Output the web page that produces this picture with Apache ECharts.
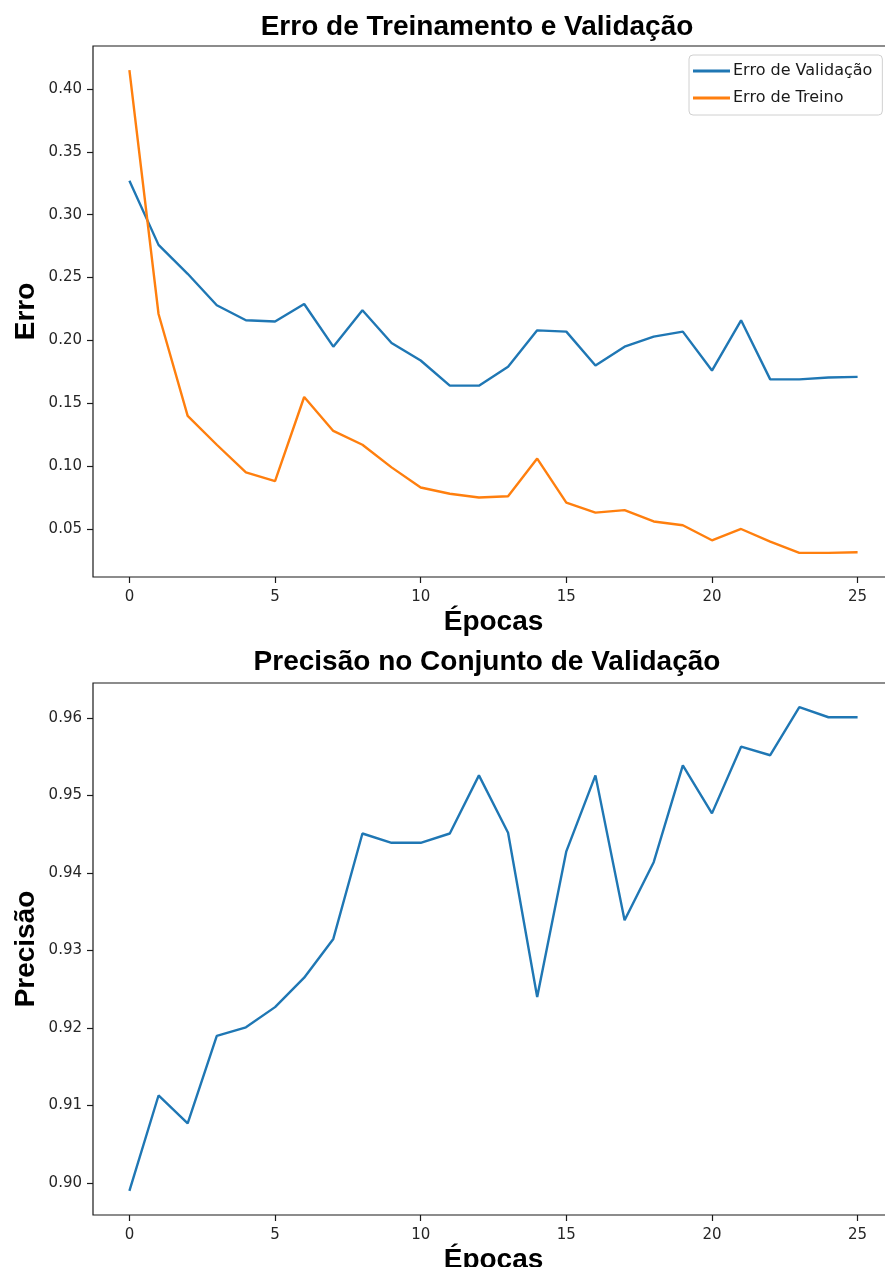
<!DOCTYPE html>
<html>
<head>
<meta charset="utf-8">
<script src="https://cdn.jsdelivr.net/npm/echarts@6/dist/echarts.min.js"></script>
<style>
  html, body { margin: 0; padding: 0; background: #fff; }
  #chart { width: 885px; height: 1267px; }
</style>
</head>
<body>
<div id="chart"></div>
<script>
// Epoch index for every recorded value
const epochs = [0, 1, 2, 3, 4, 5, 6, 7, 8, 9, 10, 11, 12, 13, 14, 15, 16, 17, 18, 19, 20, 21, 22, 23, 24, 25];

// Loss per epoch
const validationError = [0.327, 0.276, 0.253, 0.228, 0.216, 0.215, 0.229, 0.195, 0.224, 0.198, 0.184, 0.164, 0.164, 0.179, 0.208, 0.207, 0.180, 0.195, 0.203, 0.207, 0.176, 0.216, 0.169, 0.169, 0.1705, 0.171];
const trainError = [0.415, 0.221, 0.140, 0.117, 0.095, 0.088, 0.155, 0.128, 0.117, 0.099, 0.083, 0.078, 0.075, 0.076, 0.106, 0.071, 0.063, 0.065, 0.056, 0.053, 0.041, 0.050, 0.040, 0.031, 0.031, 0.0315];

// Accuracy on the validation set per epoch
const validationAccuracy = [0.899, 0.9113, 0.9077, 0.919, 0.9201, 0.9227, 0.9265, 0.9315, 0.9451, 0.9439, 0.9439, 0.9451, 0.9526, 0.9452, 0.924, 0.9428, 0.9526, 0.9339, 0.9414, 0.9539, 0.9477, 0.9563, 0.9552, 0.9614, 0.9601, 0.9601];

// Tick labels
const epochTicks = [0, 5, 10, 15, 20, 25];
const errorTicks = [0.05, 0.10, 0.15, 0.20, 0.25, 0.30, 0.35, 0.40];
const accuracyTicks = [0.90, 0.91, 0.92, 0.93, 0.94, 0.95, 0.96];

const BLUE = '#1f77b4';
const ORANGE = '#ff7f0e';
const INK = '#1a1a1a';
const TICK_FONT = 'DejaVu Sans';
const LABEL_FONT = 'Liberation Sans';

// Axis range padded by 5% of the data span on both sides
function padded(values) {
  const lo = Math.min(...values), hi = Math.max(...values);
  const pad = (hi - lo) * 0.05;
  return { min: lo - pad, max: hi + pad };
}
const xRange = padded(epochs);
const errRange = padded(validationError.concat(trainError));
const accRange = padded(validationAccuracy);

const pairs = ys => epochs.map((e, i) => [e, ys[i]]);

function xAxis(gridIndex) {
  return {
    type: 'value', gridIndex,
    min: xRange.min, max: xRange.max,
    name: 'Épocas', nameLocation: 'middle', nameGap: 31, nameMoveOverlap: false,
    nameTextStyle: { fontFamily: LABEL_FONT, fontWeight: 'bold', fontSize: 28, color: '#000' },
    axisLine: { show: false, onZero: false },
    axisTick: { show: true, length: 6, inside: false, customValues: epochTicks, lineStyle: { color: INK, width: 1.2 } },
    axisLabel: { customValues: epochTicks, margin: 13, fontFamily: TICK_FONT, fontSize: 15, color: '#262626' },
    splitLine: { show: false }
  };
}

function yAxis(gridIndex, range, ticks, name, digits, gap) {
  return {
    type: 'value', gridIndex,
    min: range.min, max: range.max,
    name, nameLocation: 'middle', nameGap: gap, nameRotate: 90, nameMoveOverlap: false,
    nameTextStyle: { fontFamily: LABEL_FONT, fontWeight: 'bold', fontSize: 28, color: '#000' },
    axisLine: { show: false, onZero: false },
    axisTick: { show: true, length: 6, inside: false, customValues: ticks, lineStyle: { color: INK, width: 1.2 } },
    axisLabel: { customValues: ticks, margin: 11, fontFamily: TICK_FONT, fontSize: 15, color: '#262626',
      formatter: v => v.toFixed(digits) },
    splitLine: { show: false }
  };
}

const lineStyle = color => ({ color, width: 2.4 });

const chart = echarts.init(document.getElementById('chart'), null, { renderer: 'canvas' });
chart.setOption({
  animation: false,
  backgroundColor: '#fff',
  title: [
    { text: 'Erro de Treinamento e Validação', left: 472, top: 8, textAlign: 'center',
      textStyle: { fontFamily: LABEL_FONT, fontWeight: 'bold', fontSize: 28, color: '#000' } },
    { text: 'Precisão no Conjunto de Validação', left: 482, top: 643, textAlign: 'center',
      textStyle: { fontFamily: LABEL_FONT, fontWeight: 'bold', fontSize: 28, color: '#000' } }
  ],
  legend: {
    data: ['Erro de Validação', 'Erro de Treino'],
    orient: 'vertical',
    left: 689, top: 55,
    icon: 'rect', itemWidth: 37, itemHeight: 3, itemGap: 11,
    padding: [8, 10, 9, 4],
    backgroundColor: 'rgba(255,255,255,0.8)',
    borderColor: '#d0d0d0', borderWidth: 1, borderRadius: 4,
    textStyle: { fontFamily: TICK_FONT, fontSize: 16, color: '#1a1a1a', padding: [0, 0, 0, -2] }
  },
  grid: [
    { left: 93, top: 46, right: -9, bottom: 690, outerBoundsMode: 'none', containLabel: false,
      show: true, borderColor: INK, borderWidth: 1.2, backgroundColor: 'transparent' },
    { left: 93, top: 683, right: -9, bottom: 52, outerBoundsMode: 'none', containLabel: false,
      show: true, borderColor: INK, borderWidth: 1.2, backgroundColor: 'transparent' }
  ],
  xAxis: [xAxis(0), xAxis(1)],
  yAxis: [
    yAxis(0, errRange, errorTicks, 'Erro', 2, 53),
    yAxis(1, accRange, accuracyTicks, 'Precisão', 2, 53)
  ],
  series: [
    { name: 'Erro de Validação', type: 'line', xAxisIndex: 0, yAxisIndex: 0, data: pairs(validationError),
      showSymbol: false, symbol: 'none', color: BLUE, lineStyle: lineStyle(BLUE) },
    { name: 'Erro de Treino', type: 'line', xAxisIndex: 0, yAxisIndex: 0, data: pairs(trainError),
      showSymbol: false, symbol: 'none', color: ORANGE, lineStyle: lineStyle(ORANGE) },
    { name: 'Precisão', type: 'line', xAxisIndex: 1, yAxisIndex: 1, data: pairs(validationAccuracy),
      showSymbol: false, symbol: 'none', color: BLUE, lineStyle: lineStyle(BLUE) }
  ]
});
</script>
</body>
</html>
